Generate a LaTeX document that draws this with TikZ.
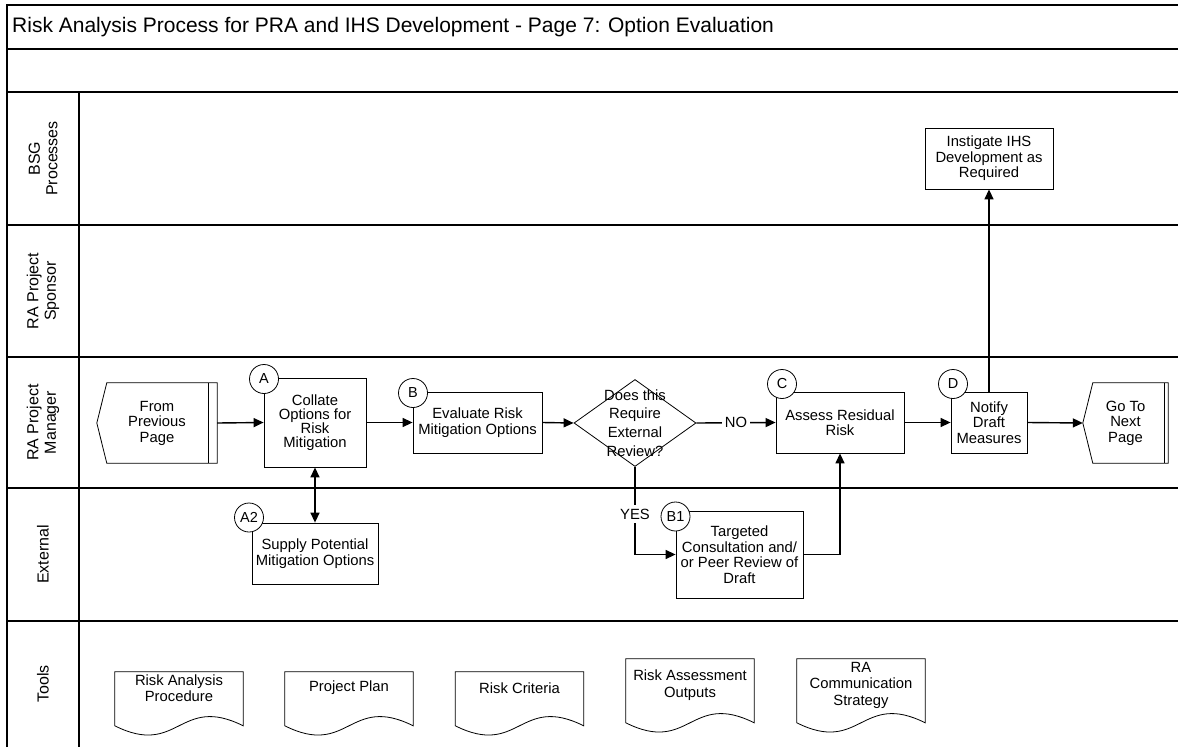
\documentclass[tikz,border=0pt]{standalone}
\usepackage{fontspec}
\setmainfont{Liberation Sans}
\usetikzlibrary{arrows.meta,shapes.geometric,calc}
\begin{document}
\begin{tikzpicture}[x=1pt,y=-1pt,
  every node/.style={font=\fontsize{14.8}{15.5}\selectfont, inner sep=0pt},
  box/.style={draw, line width=0.8pt, align=center, fill=white},
  tag/.style={circle, draw, fill=white, line width=0.8pt, minimum size=29pt, inner sep=0pt, font=\fontsize{14.5}{15}\selectfont},
  conn/.style={line width=1.4pt, -{Triangle[length=10pt,width=9pt]}},
  lane/.style={line width=1.1pt},
  lanelabel/.style={rotate=90, align=center, font=\fontsize{16}{17.5}\selectfont},
  doctext/.style={align=center, minimum width=128pt, font=\fontsize{14.8}{16.5}\selectfont},
  docline/.style={line width=0.8pt}
]
\useasboundingbox (0,0) rectangle (1178,747);
\fill[white] (0,0) rectangle (1178,747);

% frame and lanes
\draw[lane] (7,747) -- (7,5) -- (1178,5);
\foreach \yy in {49,92,225,357,488,621} \draw[lane] (7,\yy) -- (1178,\yy);
\draw[lane] (79,92) -- (79,747);

\node[anchor=base west, font=\fontsize{21}{24}\selectfont] (title) at (12,32) {Risk Analysis Process for PRA and IHS Development - Page 7: Option Evaluation};

\node[lanelabel] (lbsg) at (43,158.5) {BSG\\Processes};
\node[lanelabel] (lspons) at (43,291) {RA Project\\Sponsor};
\node[lanelabel] (lman) at (43,422.5) {RA Project\\Manager};
\node[lanelabel] (lext) at (43,554.5) {External};
\node[lanelabel] (ltools) at (43,684) {Tools};

% off-page connectors
\node[align=center, minimum width=120pt, minimum height=80pt] (from) at (157,423) {From\\Previous\\Page};
\draw[line width=0.8pt] (from.west) -- ($(from.north west)+(10,0)$) -- (from.north east) -- (from.south east) -- ($(from.south west)+(10,0)$) -- cycle;
\draw[line width=0.8pt] ($(from.north east)+(-9,0)$) -- ($(from.south east)+(-9,0)$);

\node[align=center, minimum width=85pt, minimum height=80pt] (goto) at (1125.5,423) {Go To\\Next\\Page};
\draw[line width=0.8pt] (goto.west) -- ($(goto.north west)+(10,0)$) -- (goto.north east) -- (goto.south east) -- ($(goto.south west)+(10,0)$) -- cycle;
\draw[line width=0.8pt] ($(goto.north east)+(-3.5,0)$) -- ($(goto.south east)+(-3.5,0)$);

% process boxes
\node[box, minimum width=102pt, minimum height=89pt, font=\fontsize{14.8}{14}\selectfont] (collate) at (315,422.5) {Collate\\Options for\\Risk\\Mitigation};
\node[box, minimum width=129pt, minimum height=61pt] (evaluate) at (477.5,422.5) {Evaluate Risk\\Mitigation Options};
\node[diamond, draw, line width=0.8pt, minimum width=122pt, minimum height=87pt, inner sep=0pt, fill=white] (dec) at (635,423) {};
\node[align=center, font=\fontsize{14.8}{18.7}\selectfont] (dectext) at (dec.center) {Does this\\Require\\External\\Review?};
\node[box, minimum width=128pt, minimum height=61pt] (assess) at (840,422.5) {Assess Residual\\Risk};
\node[box, minimum width=76pt, minimum height=61pt] (notify) at (989,422.5) {Notify\\Draft\\Measures};
\node[box, minimum width=128pt, minimum height=61pt] (instigate) at (989,158.5) {Instigate IHS\\Development as\\Required};
\node[box, minimum width=126pt, minimum height=61pt] (supply) at (315,553.5) {Supply Potential\\Mitigation Options};
\node[box, minimum width=127pt, minimum height=87pt] (targeted) at (739.5,554.5) {Targeted\\Consultation and/\\or Peer Review of\\Draft};

% connectors
\draw[conn] (from.east) -- (collate.west);
\draw[conn] (collate.east) -- (evaluate.west);
\draw[conn] (evaluate.east) -- (dec.west);
\draw[conn] (dec.east) -- node[fill=white, inner xsep=3pt, inner ysep=2pt] (nolab) {NO} (assess.west);
\draw[conn] (assess.east) -- (notify.west);
\draw[conn] (notify.east) -- (goto.west);
\draw[conn] (notify.north) -- (instigate.south);
\draw[line width=1.4pt, {Triangle[length=10pt,width=9pt]}-{Triangle[length=10pt,width=9pt]}] (collate.south) -- (supply.north);
\draw[conn] (dec.south) |- node[pos=0.27, fill=white, inner xsep=2pt, inner ysep=4pt] (yeslab) {YES} (targeted.west);
\draw[conn] (targeted.east) -| (assess.south);

% step tags
\node[tag] (ta) at (264,379) {A};
\node[tag] (tb) at (413,393) {B};
\node[tag] (tc) at (782,384) {C};
\node[tag] (td) at (953,384) {D};
\node[tag] (ta2) at (249,517.5) {A2};
\node[tag] (tb1) at (675.5,516.5) {B1};

% tools documents
\node[doctext, minimum height=32pt] (d1) at (179,688) {Risk Analysis\\Procedure};
\node[doctext, minimum height=32pt] (d2) at (349,688) {Project Plan};
\node[doctext, minimum height=32pt] (d3) at (519.5,688) {Risk Criteria};
\node[doctext, minimum height=52pt] (d4) at (690,685) {Risk Assessment\\Outputs};
\node[doctext, minimum height=52pt] (d5) at (861,685) {RA\\Communication\\Strategy};
\foreach \d/\h in {d1/54,d2/54,d3/54,d4/64,d5/64}
  \draw[docline] (\d.north west) -- (\d.north east) -- ($(\d.north east)+(0,\h)$)
    .. controls +(-64,-32) and +(64,32) .. ($(\d.north west)+(0,\h)$) -- cycle;
\end{tikzpicture}
\end{document}
